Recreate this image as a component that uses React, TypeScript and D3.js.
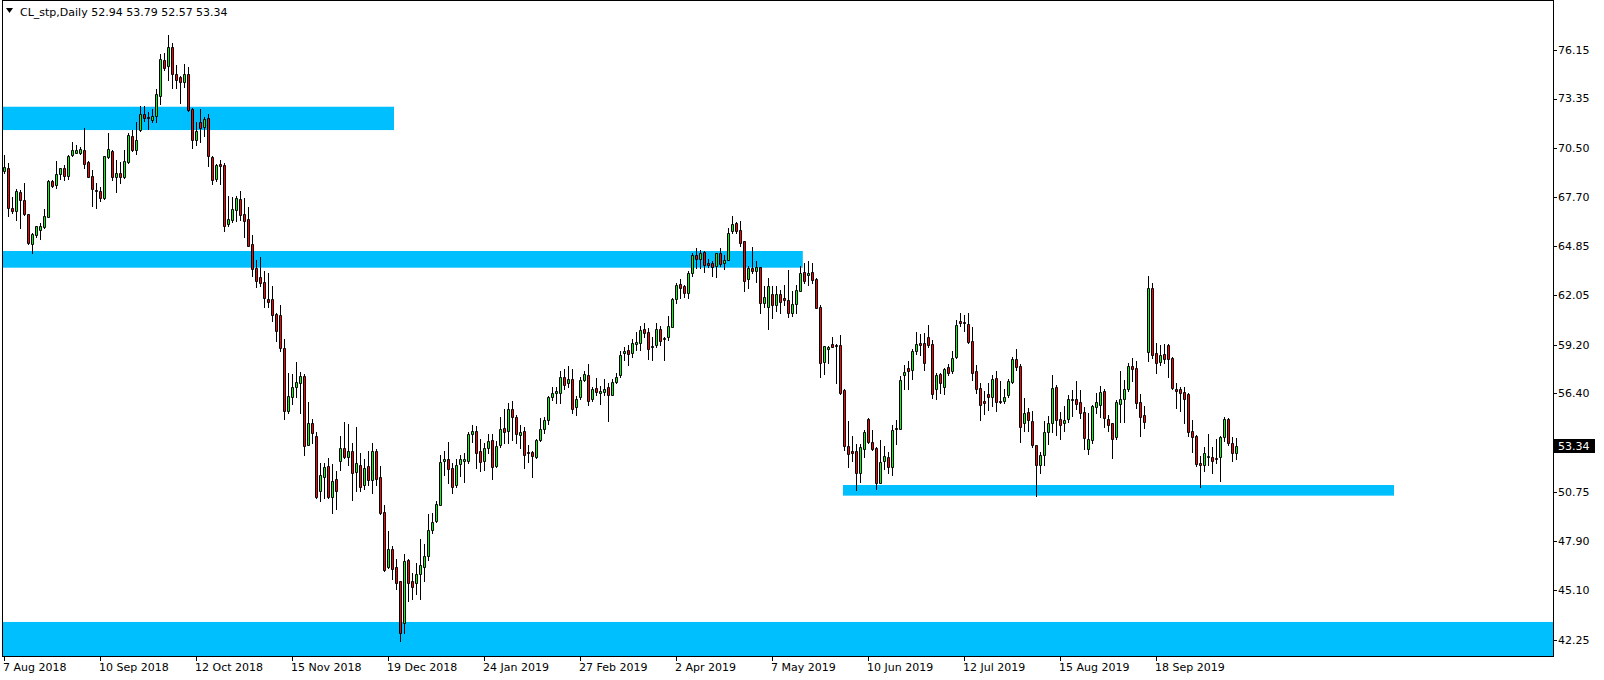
import React from 'react';
import * as d3 from 'd3';

// ---------- data ----------
const OPEN: number[] = [
69.15,69.30,67.02,66.85,67.92,67.46,66.66,64.93,65.47,65.74,65.89,66.51,68.54,68.31,68.96,69.28,68.84,70.03,70.18,70.15,
70.34,69.65,68.84,68.04,68.00,67.58,69.92,70.30,68.80,69.00,68.77,69.65,71.14,70.36,71.47,72.39,72.23,72.08,72.27,73.42,
75.49,75.14,76.26,74.69,74.53,74.23,74.69,72.69,70.93,71.93,71.66,72.16,69.93,68.67,69.51,69.47,66.10,66.33,66.91,67.52,
66.68,66.37,64.93,63.55,63.01,62.74,61.75,61.75,60.91,60.83,58.95,55.35,56.15,56.73,56.96,57.34,53.40,54.62,53.89,50.71,
51.56,52.17,50.37,51.40,52.48,53.20,52.67,53.01,51.82,52.21,51.06,52.17,51.37,53.01,51.52,49.53,46.35,47.38,46.35,45.54,
43.13,46.77,45.58,45.47,45.97,46.35,47.00,48.49,48.99,49.95,52.44,52.56,52.06,51.06,52.29,52.44,52.48,54.01,54.16,53.02,
52.48,53.21,53.67,52.17,53.36,54.36,54.16,55.43,55.01,53.94,54.17,52.98,52.98,52.71,53.67,54.32,54.82,56.16,56.39,56.39,
57.27,56.96,57.19,55.58,56.12,57.12,57.42,56.04,56.66,56.39,56.43,56.70,56.24,57.00,57.38,58.65,58.84,58.69,59.18,59.26,
60.03,59.87,59.03,59.15,60.03,59.45,59.57,60.18,61.79,62.63,62.52,62.13,63.28,64.28,64.09,64.47,63.82,63.82,63.67,64.40,
63.82,64.01,65.66,66.12,65.74,65.08,62.90,63.55,63.40,63.59,61.56,61.33,62.06,61.44,62.06,61.83,61.71,60.98,61.48,62.25,
63.32,63.13,63.32,62.94,61.33,58.15,58.88,59.18,59.15,59.15,56.54,53.32,53.05,53.05,51.75,53.17,54.85,53.55,53.21,51.21,
52.44,52.67,52.13,54.35,54.32,57.38,57.80,57.69,58.80,59.22,59.22,59.56,59.18,56.58,57.46,56.73,57.84,57.61,58.42,60.48,
60.45,60.33,59.33,57.61,56.65,55.93,56.31,56.15,57.23,55.93,55.93,56.23,57.00,58.30,57.92,54.62,55.27,54.74,53.36,52.21,
52.79,54.13,54.62,56.69,54.85,54.62,54.89,55.96,56.00,55.85,55.27,53.17,53.66,55.58,55.70,56.46,54.85,54.62,53.82,55.73,
56.04,56.62,57.92,57.81,55.85,55.09,58.70,62.40,58.65,58.15,58.61,59.11,58.38,56.62,56.58,56.43,56.31,54.17,53.90,52.33,
52.21,52.67,52.71,52.63,52.67,53.86,54.89,53.52,52.94];

const HIGH: number[] = [
70.05,69.57,67.62,68.08,68.04,68.42,66.66,65.59,65.97,66.16,66.97,68.61,68.61,69.72,69.28,69.47,70.03,70.80,70.62,70.53,
71.60,69.72,69.19,68.42,68.23,69.99,71.29,70.34,69.76,69.67,70.34,71.33,71.49,71.93,72.85,72.85,72.50,72.69,73.84,75.83,
75.91,76.95,76.49,75.22,74.57,75.26,75.11,72.73,71.96,72.69,72.23,72.42,70.01,69.51,69.78,69.59,67.67,67.63,67.67,67.98,
67.56,67.06,65.45,64.01,64.16,63.36,63.24,62.51,60.94,61.40,59.45,57.50,57.46,58.15,57.57,57.46,55.85,54.89,54.12,52.32,
52.32,52.63,52.28,51.86,53.89,54.70,54.58,53.47,54.39,52.94,52.55,53.01,53.47,53.17,52.17,49.91,48.42,47.57,46.81,45.54,
47.11,46.81,46.04,46.62,47.96,47.69,49.41,49.45,50.14,52.82,53.02,53.55,52.36,52.56,52.82,52.94,54.13,54.51,54.47,53.71,
53.51,54.01,54.01,53.59,55.01,55.47,55.77,55.89,55.09,54.55,54.43,53.36,53.02,53.71,54.93,54.97,56.20,56.70,56.73,57.61,
57.77,57.92,57.73,56.20,57.27,57.61,58.04,56.73,57.23,56.77,57.19,56.92,57.16,57.50,58.76,58.99,59.15,59.49,59.87,60.22,
60.37,60.10,59.61,60.37,60.22,59.61,60.79,61.83,62.67,62.90,62.59,63.40,64.40,64.70,64.59,64.51,64.09,63.94,64.43,64.70,
64.28,65.85,66.54,66.20,66.23,65.12,63.67,64.74,63.97,63.63,62.52,62.98,62.52,62.52,62.29,62.59,63.44,62.25,62.55,63.67,
63.86,63.97,63.82,62.98,61.41,59.07,59.07,59.60,59.18,59.72,56.62,54.74,53.90,53.44,53.44,54.24,54.93,54.24,53.28,53.67,
53.32,52.97,54.51,54.81,57.34,57.96,58.19,58.88,59.87,59.76,59.83,60.29,59.41,57.50,57.50,57.80,58.03,58.80,60.56,60.94,
60.83,60.94,60.18,57.96,56.92,56.50,56.92,57.38,57.61,57.07,56.58,57.15,58.42,58.88,58.03,56.08,55.50,55.35,53.36,52.98,
54.74,55.05,57.38,56.81,55.27,55.62,56.27,56.54,57.08,56.54,55.54,55.20,55.66,56.35,56.77,56.62,55.08,54.66,55.96,57.61,
57.11,58.07,58.40,58.23,56.31,55.62,63.09,62.70,59.22,59.15,59.19,59.18,58.42,56.96,56.73,56.70,56.35,54.82,53.94,52.75,
53.25,54.01,53.25,53.75,53.90,54.97,54.93,53.82,53.79];

const LOW: number[] = [
69.03,66.54,66.70,66.31,65.84,66.60,64.93,64.44,65.32,65.20,65.84,66.47,68.19,68.15,68.69,68.61,68.69,69.99,70.15,70.11,
69.28,68.77,67.14,67.02,67.42,67.50,69.88,68.61,67.94,68.46,68.71,69.57,70.30,70.13,71.43,72.00,71.54,71.93,71.96,73.00,
74.95,74.38,73.92,73.88,73.04,73.96,72.58,70.47,70.62,70.82,71.12,69.40,68.40,68.55,68.40,65.68,65.95,66.18,66.26,66.33,
65.34,64.80,63.09,62.48,62.51,61.33,61.29,60.52,59.37,58.76,54.89,55.20,55.73,56.15,55.20,52.78,53.36,53.47,50.33,50.18,
50.33,50.33,49.49,49.72,51.94,52.63,52.25,50.22,50.75,50.75,50.87,51.10,50.60,51.10,49.41,46.16,46.31,45.66,45.08,42.13,
42.59,44.43,44.55,44.82,44.55,45.54,46.77,48.30,48.95,49.91,51.64,51.21,50.64,50.95,51.60,51.25,52.36,53.55,52.06,51.90,
51.94,52.94,51.44,52.13,53.25,53.51,53.51,53.67,53.48,53.21,52.06,52.40,51.56,52.63,53.63,54.09,54.59,55.97,55.78,55.81,
56.62,56.73,55.20,55.12,56.04,57.08,55.70,55.93,56.27,55.74,56.27,54.78,56.24,56.96,57.27,58.27,58.00,58.46,58.84,58.84,
59.61,58.34,58.27,59.03,59.11,58.27,59.41,60.14,61.56,61.83,61.87,61.83,63.09,63.55,63.55,63.32,63.63,63.09,63.05,63.67,
63.51,64.01,65.54,65.54,64.82,62.25,62.40,63.28,62.75,60.98,61.33,60.06,60.68,61.10,60.98,61.44,60.72,60.79,60.98,62.25,
62.67,62.56,62.67,61.25,57.31,57.46,58.11,58.99,56.92,56.31,53.09,52.13,52.44,50.79,51.25,52.71,53.47,53.09,50.87,51.18,
52.00,51.79,51.67,53.43,54.32,56.61,56.61,57.15,58.61,58.57,57.69,59.03,56.08,56.04,56.38,56.31,57.38,57.50,58.38,60.22,
59.95,59.26,57.11,56.35,54.81,55.16,55.39,55.62,55.35,55.77,55.77,56.15,56.96,57.69,53.55,54.16,54.20,53.24,50.45,51.79,
52.25,53.44,54.13,53.97,53.74,54.16,54.70,55.05,55.47,54.93,53.17,52.86,53.51,55.24,55.01,54.43,54.20,52.63,53.70,54.70,
54.70,56.50,57.08,55.51,53.90,54.36,58.23,58.40,57.54,57.96,58.07,57.31,56.62,55.51,55.35,54.66,53.90,52.98,52.17,50.95,
51.87,52.21,51.79,52.33,51.33,53.59,53.36,52.44,52.57];

const CLOSE: number[] = [
69.38,66.98,66.85,68.00,67.46,66.66,64.97,65.51,65.97,65.97,66.54,68.57,68.27,68.96,69.28,68.82,69.99,70.34,70.34,70.41,
69.53,68.80,68.08,67.96,67.60,69.99,70.37,68.80,69.00,68.77,69.69,71.21,70.35,70.89,72.39,72.16,72.16,72.27,73.57,75.57,
75.07,76.26,74.69,74.34,74.23,74.69,72.62,70.93,71.43,71.62,72.12,69.97,68.59,69.47,69.44,65.99,66.37,66.95,67.56,66.60,
66.26,64.84,63.47,62.82,62.71,61.82,61.59,60.83,59.91,58.95,55.35,56.19,56.69,57.00,57.34,53.32,54.62,54.05,50.41,51.63,
52.09,50.37,51.29,50.75,53.20,52.67,53.01,51.79,52.32,50.98,52.05,51.37,53.01,51.44,49.49,46.20,47.42,46.23,45.43,42.56,
46.69,45.47,45.20,45.97,46.46,47.00,48.49,48.95,49.99,52.40,52.56,51.98,50.98,52.21,52.56,52.56,54.01,54.20,52.94,52.40,
53.21,53.59,52.13,53.32,54.28,54.13,55.47,54.97,54.01,54.13,52.79,52.90,52.75,53.67,54.28,54.82,56.12,56.35,56.47,57.27,
56.81,57.16,55.47,56.04,57.12,57.46,55.89,56.58,56.43,56.50,56.58,56.24,57.00,57.27,58.53,58.76,58.61,59.22,59.30,59.99,
59.84,58.92,59.07,60.03,59.38,59.53,60.22,61.75,62.56,62.40,62.13,63.28,64.28,64.09,64.40,63.71,63.74,63.59,64.40,63.78,
64.01,65.58,66.08,65.70,65.01,62.79,63.55,63.40,63.59,61.52,61.87,62.52,61.41,62.06,61.60,61.71,60.98,61.48,62.29,63.28,
62.82,63.28,62.86,61.25,58.11,59.07,59.03,59.03,59.07,56.35,53.32,52.86,52.94,51.75,53.24,54.13,53.55,53.17,51.21,52.40,
52.75,52.09,54.24,54.28,57.11,57.57,57.65,58.76,59.18,59.14,58.11,59.14,56.31,57.38,56.96,57.73,57.53,58.38,60.25,60.41,
60.37,59.30,57.53,56.61,55.70,55.81,56.15,57.15,55.85,55.85,56.15,57.07,58.30,57.84,54.43,55.20,54.81,53.40,52.21,52.79,
54.13,54.62,56.65,54.81,54.55,54.81,56.00,56.04,55.73,55.24,53.78,53.70,55.62,55.85,56.42,54.93,54.55,53.74,55.85,56.00,
56.58,57.92,57.73,55.81,55.01,54.70,62.40,58.53,58.11,58.53,58.30,58.34,56.66,56.50,56.39,56.04,54.13,53.86,52.29,52.21,
52.90,52.75,52.48,52.56,53.82,54.86,53.48,52.90,53.34];

const DATE_TICK_BARS: number[] = [0, 24, 48, 72, 96, 120, 144, 168, 192, 216, 240, 264, 288];
const DATE_TICK_LABELS: string[] = ['7 Aug 2018', '10 Sep 2018', '12 Oct 2018', '15 Nov 2018', '19 Dec 2018', '24 Jan 2019',
  '27 Feb 2019', '2 Apr 2019', '7 May 2019', '10 Jun 2019', '12 Jul 2019', '15 Aug 2019', '18 Sep 2019'];
// price grid labels (the one under the last-price box is hidden in the reference)
const PRICE_TICKS: number[] = [76.15, 73.35, 70.5, 67.7, 64.85, 62.05, 59.2, 56.4, 50.75, 47.9, 45.1, 42.25];

// zones (support / resistance rectangles): start/end in bars, top/bottom in price
const ZONE_START_BAR: number[] = [-5, -5, 209.75, -5];
const ZONE_END_BAR: number[] = [97.5, 199.7, 347.5, 420];
const ZONE_TOP: number[] = [72.82, 64.53, 51.08, 43.21];
const ZONE_BOTTOM: number[] = [71.48, 63.57, 50.47, 40.0];

const SYMBOL = 'CL_stp,Daily';

export default function App() {
  const W = 1604, H = 680;
  const plotL = 2, plotR = 1553, plotT = 0, plotB = 656;
  const n = OPEN.length;
  const x = d3.scaleLinear().domain([0, 1]).range([4, 8]);
  const y = d3.scaleLinear().domain([53.34, 76.15]).range([445.7, 48.8]);
  const font = "'DejaVu Sans', sans-serif";
  const last = n - 1;
  const fmt = d3.format('.2f');
  const lastClose = CLOSE[last];

  const candles = d3.range(n).map((i) => {
    const o = OPEN[i], c = CLOSE[i], h = HIGH[i], l = LOW[i];
    const cx = Math.round(x(i));
    const yh = Math.round(y(h)), yl = Math.round(y(l));
    const yt = Math.round(y(Math.max(o, c))), yb = Math.round(y(Math.min(o, c)));
    const bull = c >= o;
    return (
      <g key={i}>
        <path d={`M${cx + 0.5},${yh}V${yl + 1}`} stroke="#000" strokeWidth={1} />
        <path d={`M${cx - 0.5},${yt + 0.5}H${cx + 1.5}V${yb + 0.5}H${cx - 0.5}Z`}
          fill={bull ? '#00ff00' : '#ff0000'} stroke="#000" strokeWidth={1} />
      </g>
    );
  });

  const zones = ZONE_TOP.map((t, k) => {
    const x0 = Math.max(plotL, x(ZONE_START_BAR[k]));
    const x1 = Math.min(plotR, x(ZONE_END_BAR[k]));
    const y0 = y(t), y1 = Math.min(plotB, y(ZONE_BOTTOM[k]));
    return <rect key={k} x={x0} y={y0} width={x1 - x0} height={y1 - y0} fill="#00bfff" />;
  });

  return (
    <div style={{ position: 'absolute', left: 0, top: 0 }}>
      <svg width={W} height={H} style={{ display: 'block', background: '#fff' }}>
        <defs>
          <clipPath id="plot"><rect x={plotL + 1} y={plotT} width={plotR - plotL - 1} height={plotB - plotT} /></clipPath>
        </defs>
        <rect x={0} y={0} width={W} height={H} fill="#fff" />
        <g clipPath="url(#plot)">
          {zones}
          {candles}
        </g>
        <rect x={plotL + 0.5} y={plotT + 0.5} width={plotR - plotL} height={plotB - plotT} fill="none" stroke="#000" strokeWidth={1} />
        {/* header */}
        <path d="M6,8H13L9.5,13Z" fill="#000" />
        <text x={20} y={16} fontFamily={font} fontSize={11} fill="#000">
          {`${SYMBOL}  ${fmt(OPEN[last])} ${fmt(HIGH[last])} ${fmt(LOW[last])} ${fmt(CLOSE[last])}`}
        </text>
        {/* price axis */}
        {PRICE_TICKS.map((p) => (
          <g key={p}>
            <path d={`M${plotR + 1},${Math.round(y(p)) + 1.5}H${plotR + 4}`} stroke="#000" />
            <text x={plotR + 5} y={y(p) + 1} dy="0.35em" fontFamily={font} fontSize={11} fill="#000">{fmt(p)}</text>
          </g>
        ))}
        <rect x={plotR + 1} y={Math.round(y(lastClose)) - 7} width={41} height={14} fill="#000" />
        <text x={plotR + 5} y={y(lastClose)} dy="0.35em" fontFamily={font} fontSize={11} fill="#fff">{fmt(lastClose)}</text>
        {/* time axis */}
        {DATE_TICK_BARS.map((b, k) => (
          <g key={b}>
            <path d={`M${Math.round(x(b)) + 0.5},${plotB + 1}V${plotB + 5}`} stroke="#000" />
            <text x={x(b) - 1} y={671} fontFamily={font} fontSize={11} fill="#000">{DATE_TICK_LABELS[k]}</text>
          </g>
        ))}
      </svg>
    </div>
  );
}
